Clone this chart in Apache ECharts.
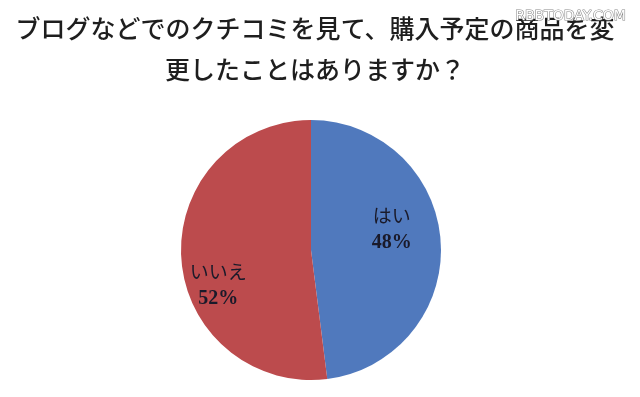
<!DOCTYPE html>
<html>
<head>
<meta charset="utf-8">
<script src="https://cdn.jsdelivr.net/npm/echarts@6/dist/echarts.min.js"></script>
<style>html,body{margin:0;padding:0;background:#fff}#c{width:640px;height:397px}</style>
</head>
<body>
<div id="c"></div>
<script>
const titleLines = ['ブログなどでのクチコミを見て、購入予定の商品を変', '更したことはありますか？'];
const categories = ['はい', 'いいえ'];
const values = [48, 52];
const colors = ['#5079bd', '#bc4b4d'];
const labelShift = [[13, -16], [-25, 31]];

const chart = echarts.init(document.getElementById('c'));
chart.setOption({
  backgroundColor: '#ffffff',
  animation: false,
  title: [
    {
      text: titleLines.join('\n'),
      left: 310, top: 3, textAlign: 'center',
      textStyle: { fontFamily: 'Noto Sans CJK JP', fontSize: 25, fontWeight: 500, color: '#1e1e1e', lineHeight: 41 }
    },
    {
      text: 'RBBTODAY.COM',
      right: 8, top: 4,
      textStyle: { fontFamily: 'DejaVu Sans', fontSize: 14, fontWeight: 'normal', color: '#ffffff', textBorderColor: '#8a8a8a', textBorderWidth: 1.2 }
    }
  ],
  series: [{
    type: 'pie',
    center: [311, 250],
    radius: 130,
    startAngle: 90,
    clockwise: true,
    silent: true,
    label: {
      show: true,
      position: 'inside',
      formatter: p => '{n|' + p.name + '}\n{p|' + p.value + '%}',
      rich: {
        n: { fontFamily: 'Noto Sans CJK JP', fontSize: 19, lineHeight: 27, color: '#1a1a2a' },
        p: { fontFamily: 'Liberation Serif', fontSize: 20, fontWeight: 'bold', lineHeight: 27, color: '#1a1a2a' }
      }
    },
    labelLayout: p => ({ dx: labelShift[p.dataIndex][0], dy: labelShift[p.dataIndex][1] }),
    labelLine: { show: false },
    data: categories.map((c, i) => ({ name: c, value: values[i], itemStyle: { color: colors[i] } }))
  }]
});
</script>
</body>
</html>
